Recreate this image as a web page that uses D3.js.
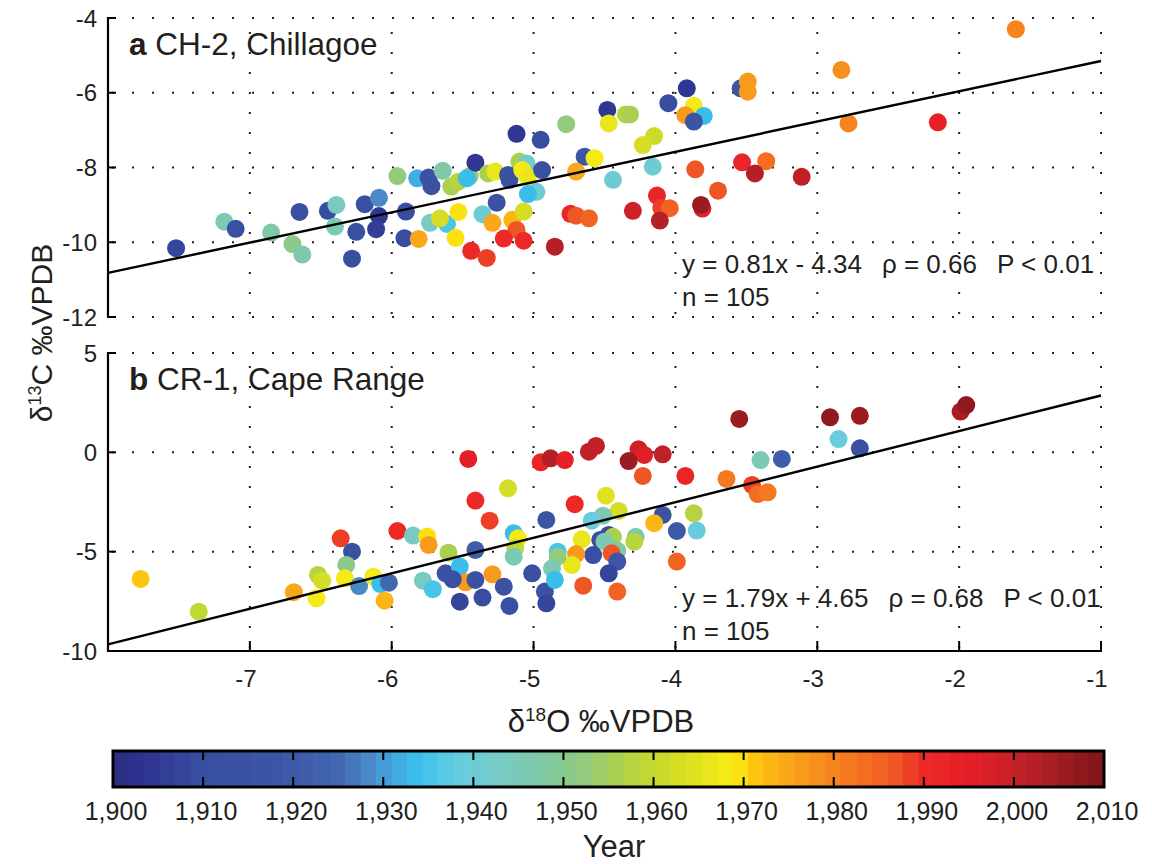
<!DOCTYPE html>
<html>
<head>
<meta charset="utf-8">
<script src="https://cdn.jsdelivr.net/npm/d3@7"></script>
<style>
  body { margin: 0; background: #fff; }
  text { font-family: "Liberation Sans", Arial, Helvetica, sans-serif; fill: #231f20; }
</style>
</head>
<body>
<svg id="chart" width="1152" height="864"></svg>
<script>
// Dữ liệu panel a: CH-2, Chillagoe (δ18O, δ13C, năm)
const chX = [-7.52,-7.18,-7.10,-6.85,-6.70,-6.63,-6.65,-6.45,-6.39,-6.40,-6.25,-6.28,-6.19,-6.09,-6.09,-6.11,-5.96,-5.90,-5.91,-5.81,
  -5.82,-5.74,-5.72,-5.64,-5.58,-5.53,-5.45,-5.41,-5.32,-5.27,-5.73,-5.61,-5.66,-5.53,-5.55,-5.44,-5.33,-5.36,-5.29,-5.26,
  -5.47,-5.18,-5.17,-5.10,-5.05,-5.08,-5.04,-4.94,-4.98,-5.04,-5.15,-5.07,-5.12,-5.21,-5.07,-4.85,-5.12,-4.95,-4.77,-3.92,
  -4.05,-4.48,-4.47,-4.35,-4.32,-3.87,-3.93,-3.80,-3.87,-3.54,-3.49,-3.49,-4.15,-4.23,-4.64,-4.57,-4.70,-4.44,-4.16,-3.86,
  -3.53,-3.36,-3.44,-3.11,-3.70,-4.13,-4.10,-4.04,-4.11,-4.30,-3.81,-3.82,-4.74,-4.70,-4.61,-2.83,-2.78,-1.60,-2.15];
const chY = [-10.16,-9.45,-9.64,-9.74,-10.05,-10.33,-9.19,-9.16,-9.00,-9.58,-9.72,-10.44,-8.98,-8.81,-9.30,-9.65,-8.23,-9.18,-9.89,-9.91,
  -8.29,-8.27,-8.50,-8.09,-8.51,-8.38,-8.23,-7.87,-8.16,-8.11,-9.48,-9.51,-9.36,-9.19,-9.88,-10.23,-10.42,-9.25,-9.48,-8.94,
  -8.29,-8.20,-8.33,-7.84,-7.89,-8.07,-8.26,-8.07,-8.65,-8.71,-9.40,-9.18,-9.67,-9.90,-9.96,-10.12,-7.10,-7.26,-6.84,-5.88,
  -6.28,-6.46,-6.82,-6.58,-6.58,-6.35,-6.60,-6.62,-6.77,-5.88,-5.70,-5.97,-7.16,-7.40,-7.71,-7.75,-8.11,-8.33,-7.98,-8.05,
  -7.86,-7.83,-8.16,-8.25,-8.62,-8.75,-9.08,-9.09,-9.42,-9.16,-9.10,-9.00,-9.24,-9.29,-9.36,-5.39,-6.82,-4.30,-6.79];
const chYear = [1907,1945,1911,1947,1950,1948,1912,1910,1944,1946,1911,1912,1912,1928,1904,1906,1952,1910,1910,1974,
  1932,1914,1915,1948,1956,1957,1952,1905,1955,1967,1944,1936,1962,1969,1969,1990,1988,1940,1974,1915,
  1934,1915,1913,1956,1942,1968,1966,1913,1940,1934,1973,1962,1987,1991,1991,2002,1904,1910,1953,1904,
  1910,1904,1967,1958,1955,1968,1976,1934,1916,1918,1976,1977,1961,1962,1918,1968,1975,1940,1940,1987,
  1992,1983,2002,2000,1986,1992,1988,1985,2003,1998,1995,2006,1992,1986,1985,1978,1980,1980,1993];

// Dữ liệu panel b: CR-1, Cape Range
const crX = [-7.77,-7.36,-6.69,-6.53,-6.52,-6.49,-6.36,-6.28,-6.32,-6.33,-6.23,-6.13,-6.08,-6.02,-6.05,-5.96,-5.85,-5.75,-5.74,-5.78,
  -5.71,-5.60,-5.62,-5.52,-5.48,-5.41,-5.52,-5.36,-5.41,-5.46,-5.41,-5.31,-5.29,-5.18,-4.95,-4.88,-5.14,-5.11,-5.13,-5.14,
  -5.57,-5.21,-5.17,-5.01,-4.91,-4.92,-4.91,-3.55,-4.78,-4.61,-4.56,-4.26,-4.22,-4.33,-4.09,-4.23,-3.93,-3.64,-3.46,-3.42,
  -3.35,-3.40,-3.25,-4.71,-4.49,-4.40,-4.51,-4.59,-4.09,-4.15,-3.87,-3.99,-3.85,-4.66,-4.53,-4.47,-4.44,-4.50,-4.41,-4.28,
  -4.29,-4.45,-4.41,-4.58,-4.70,-4.73,-4.83,-4.83,-4.87,-4.85,-4.47,-4.65,-4.41,-3.99,-2.91,-2.70,-2.85,-2.70,-1.99,-1.95];
const crY = [-6.37,-8.02,-7.04,-7.35,-6.17,-6.46,-4.33,-5.00,-5.67,-6.34,-6.73,-6.26,-6.63,-6.56,-7.47,-3.96,-4.19,-4.24,-4.66,-6.46,
  -6.89,-5.05,-6.09,-5.75,-6.54,-6.42,-7.52,-7.31,-4.91,-0.33,-2.43,-3.44,-6.14,-1.81,-0.50,-0.30,-4.07,-4.33,-4.83,-5.25,
  -6.39,-6.76,-7.73,-6.09,-3.40,-7.01,-7.60,1.68,-0.39,0.03,0.32,0.15,-0.13,-0.44,-0.10,-1.19,-1.19,-1.34,-1.64,-2.10,
  -2.01,-0.39,-0.33,-2.61,-2.18,-2.95,-3.19,-3.44,-3.15,-3.57,-3.07,-3.96,-3.94,-4.38,-4.41,-4.16,-4.25,-4.50,-4.95,-4.25,
  -4.50,-5.08,-5.50,-5.17,-5.12,-5.67,-5.00,-5.25,-5.84,-6.42,-6.09,-6.71,-7.01,-5.50,1.76,1.84,0.67,0.20,2.05,2.38];
const crYear = [1972,1960,1974,1968,1958,1962,1989,1913,1951,1968,1929,1968,1933,1925,1973,1991,1944,1969,1976,1943,
  1936,1955,1915,1933,1976,1915,1908,1910,1922,1995,1991,1988,1976,1962,1992,2003,1933,1968,1960,1946,
  1912,1915,1912,1913,1916,1914,1907,2006,1993,2001,2000,1999,1996,2005,2001,1987,1992,1982,1988,1983,
  1982,1946,1922,1991,1965,1962,1945,1938,1914,1973,1958,1920,1938,1967,1912,1910,1955,1946,1948,1947,
  1957,1986,1918,1912,1976,1967,1936,1953,1945,1933,1908,1986,1985,1985,2007,2005,1938,1913,2004,2007];

// Trục và nhãn
const xTicks = [-7, -6, -5, -4, -3, -2, -1];
const yTicksA = [-12, -10, -8, -6, -4];
const yTicksB = [-10, -5, 0, 5];
const yearTicks = [1900, 1910, 1920, 1930, 1940, 1950, 1960, 1970, 1980, 1990, 2000, 2010];

// Hồi quy tuyến tính
const fitA = [0.81, -4.34];
const fitB = [1.79, 4.65];
const statsA = ["y = 0.81x - 4.34", "ρ = 0.66", "P < 0.01", "n = 105"];
const statsB = ["y = 1.79x + 4.65", "ρ = 0.68", "P < 0.01", "n = 105"];

// Bảng màu
const cmapYears = [1900,1903,1910,1918,1925,1928,1931,1934,1938,1943,1948,1953,1957,1961,1965,1969,1971,1975,1979,1983,1987,1990,1994,1998,2001,2005,2010];
const cmapColors = ["#2b2f7e","#2e3190","#394fa1","#3c55a5","#4167b0","#4a85c5","#44a6dd","#38c2ee","#66ccdf","#78cac6","#80c9a3","#96ca76",
  "#b2d343","#cbdb2a","#e2e31f","#fbec14","#fdc70f","#f9a51c","#f68a1f","#f37021","#ef5525","#ec2a27","#e71f26","#d32027","#bd2127","#a01d21","#7c1518"];
const nColors = 64;

const svg = d3.select("#chart");
const ink = "#231f20";

const x = d3.scaleLinear().domain([-8, -1]).range([108, 1101]);
const yA = d3.scaleLinear().domain([-12, -4]).range([317, 18]);
const yB = d3.scaleLinear().domain([-10, 5]).range([651, 353]);

const cmap = d3.scaleLinear().domain(cmapYears).range(cmapColors).interpolate(d3.interpolateRgb).clamp(true);
const step = 110 / nColors;
const colorOf = yr => {
  const i = Math.max(0, Math.min(nColors - 1, Math.floor((yr - 1900) / step)));
  return cmap(1900 + (i + 0.5) * step);
};

function drawPanel(y, yTicks, xs, ys, years, fit, stats, letter, title, withXAxis) {
  const g = svg.append("g");
  const [x0, x1] = x.range();
  const [yb, yt] = y.range();

  // lưới chấm
  const grid = g.append("g").attr("stroke", ink).attr("stroke-width", 2)
    .attr("stroke-dasharray", "2,18").attr("fill", "none");
  grid.selectAll(".gx").data(xTicks).enter().append("line")
    .attr("x1", d => x(d)).attr("x2", d => x(d))
    .attr("y1", yb).attr("y2", yt).attr("stroke-dashoffset", -3);
  grid.selectAll(".gy").data(yTicks.filter(d => withXAxis ? d !== y.domain()[0] : true)).enter().append("line")
    .attr("x1", x0 + 4).attr("x2", x1 + 2)
    .attr("y1", d => y(d)).attr("y2", d => y(d));

  // điểm
  g.selectAll("circle").data(xs.map((v, i) => ({ x: v, y: ys[i], yr: years[i] }))).enter()
    .append("circle")
    .attr("cx", d => x(d.x)).attr("cy", d => y(d.y)).attr("r", 9)
    .attr("fill", d => colorOf(d.yr));

  // đường hồi quy
  const line = d3.line().x(d => x(d)).y(d => y(fit[0] * d + fit[1]));
  g.append("path").datum(x.domain()).attr("d", line)
    .attr("fill", "none").attr("stroke", "#000").attr("stroke-width", 2.4);

  // trục y
  g.append("line").attr("x1", x0).attr("x2", x0).attr("y1", yb + 1).attr("y2", yt - 1)
    .attr("stroke", "#000").attr("stroke-width", 2.2);
  g.selectAll(".yt").data(yTicks).enter().append("line")
    .attr("x1", x0).attr("x2", x0 + 8).attr("y1", d => y(d)).attr("y2", d => y(d))
    .attr("stroke", "#000").attr("stroke-width", 2);
  g.selectAll(".yl").data(yTicks).enter().append("text")
    .attr("x", x0 - 11).attr("y", d => y(d)).attr("dy", "0.36em")
    .attr("text-anchor", "end").style("font-size", "24px")
    .text(d => d);

  if (withXAxis) {
    g.append("line").attr("x1", x0 - 1).attr("x2", x1 + 1).attr("y1", yb).attr("y2", yb)
      .attr("stroke", "#000").attr("stroke-width", 2.2);
    g.selectAll(".xt").data(xTicks).enter().append("line")
      .attr("x1", d => x(d)).attr("x2", d => x(d)).attr("y1", yb).attr("y2", yb - 10)
      .attr("stroke", "#000").attr("stroke-width", 2);
    g.selectAll(".xl").data(xTicks).enter().append("text")
      .attr("x", d => x(d) - 4).attr("y", yb + 36)
      .attr("text-anchor", "middle").style("font-size", "24px")
      .text(d => d);
  }

  // tiêu đề panel
  const t = g.append("text").attr("x", 129).attr("y", yt + 37).style("font-size", "31.5px");
  t.append("tspan").style("font-weight", "bold").text(letter);
  t.append("tspan").text(" " + title);

  // thống kê
  const sy = yb - 44;
  const eq = g.append("text").attr("x", 682).attr("y", sy).style("font-size", "26px").text(stats[0]);
  const w = eq.node().getComputedTextLength();
  const rho = g.append("text").attr("x", 682 + w + 20).attr("y", sy).style("font-size", "26px").text(stats[1]);
  const w2 = rho.node().getComputedTextLength();
  g.append("text").attr("x", 682 + w + 20 + w2 + 20).attr("y", sy).style("font-size", "26px").text(stats[2]);
  g.append("text").attr("x", 682).attr("y", sy + 33).style("font-size", "26px").text(stats[3]);
}

drawPanel(yA, yTicksA, chX, chY, chYear, fitA, statsA, "a", "CH-2, Chillagoe", false);
drawPanel(yB, yTicksB, crX, crY, crYear, fitB, statsB, "b", "CR-1, Cape Range", true);

// tên trục
const yTitle = svg.append("text")
  .attr("transform", "translate(52,333) rotate(-90)")
  .attr("text-anchor", "middle").style("font-size", "30px");
yTitle.append("tspan").text("δ");
yTitle.append("tspan").attr("dy", -11).style("font-size", "18px").text("13");
yTitle.append("tspan").attr("dy", 11).text("C  ‰VPDB");

const xTitle = svg.append("text").attr("x", 601).attr("y", 732)
  .attr("text-anchor", "middle").style("font-size", "31px");
xTitle.append("tspan").text("δ");
xTitle.append("tspan").attr("dy", -11).style("font-size", "19px").text("18");
xTitle.append("tspan").attr("dy", 11).text("O ‰VPDB");

// thanh màu
const cb = d3.scaleLinear().domain([1900, 2010]).range([113, 1104]);
const cbTop = 751, cbBot = 787;
const cbg = svg.append("g");
cbg.selectAll("rect").data(d3.range(nColors)).enter().append("rect")
  .attr("x", i => cb(1900 + i * step)).attr("y", cbTop)
  .attr("width", i => cb(1900 + (i + 1) * step) - cb(1900 + i * step) + 0.6)
  .attr("height", cbBot - cbTop)
  .attr("fill", i => cmap(1900 + (i + 0.5) * step));
cbg.selectAll(".ct").data(yearTicks.slice(1, -1)).enter().append("path")
  .attr("d", d => `M${cb(d)},${cbTop}V${cbTop + 9}M${cb(d)},${cbBot}V${cbBot - 10}`)
  .attr("stroke", "#000").attr("stroke-width", 2);
cbg.append("rect").attr("x", cb(1900)).attr("y", cbTop)
  .attr("width", cb(2010) - cb(1900)).attr("height", cbBot - cbTop)
  .attr("fill", "none").attr("stroke", "#000").attr("stroke-width", 3);
cbg.selectAll(".cl").data(yearTicks).enter().append("text")
  .attr("x", d => cb(d) + 3).attr("y", 820)
  .attr("text-anchor", "middle").style("font-size", "25px")
  .text(d => d3.format(",")(d));
svg.append("text").attr("x", 614).attr("y", 857).attr("text-anchor", "middle")
  .style("font-size", "31px").text("Year");
</script>
</body>
</html>
